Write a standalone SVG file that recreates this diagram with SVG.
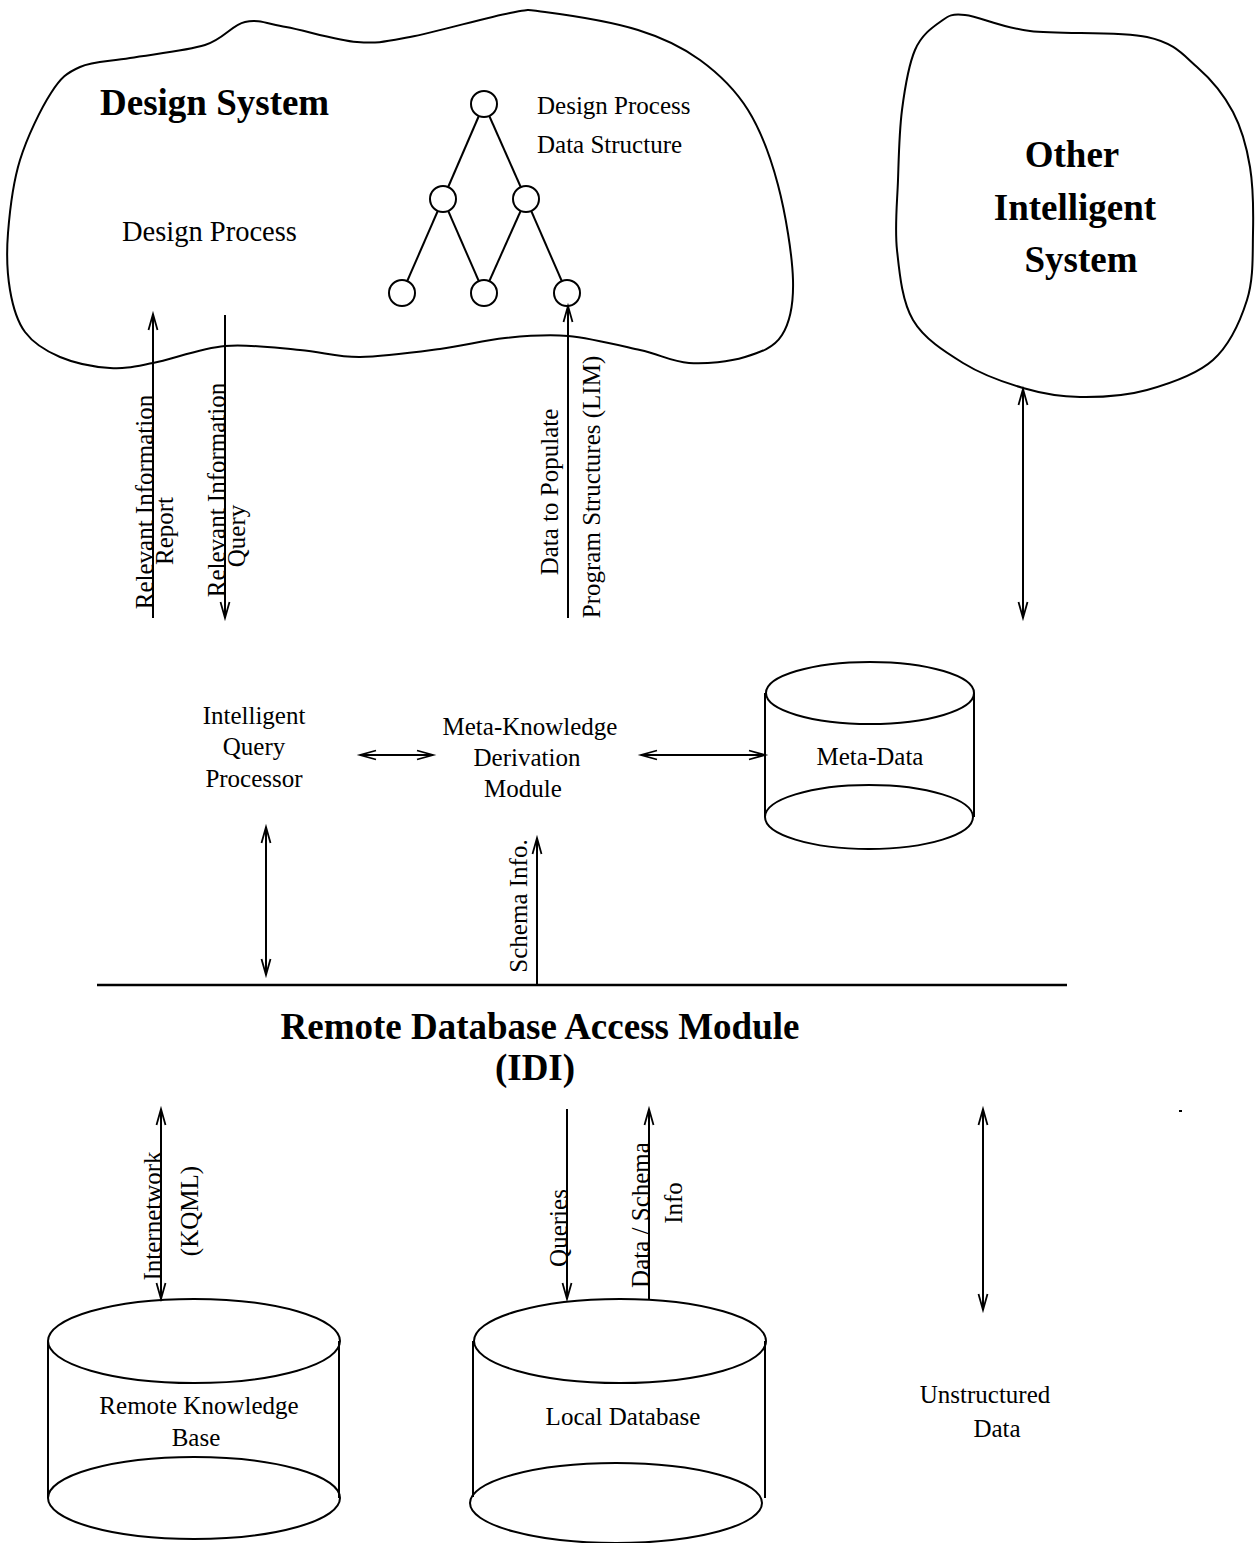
<svg xmlns="http://www.w3.org/2000/svg" width="1257" height="1543" viewBox="0 0 1257 1543">
<defs>
<style>
text{font-family:"Liberation Serif","Times New Roman",serif;fill:#000}
.b{font-weight:bold;font-size:37px}
.n{font-size:25px}
.m{text-anchor:middle}
.ln{stroke:#000;stroke-width:2;fill:none}
.sh{stroke:#000;stroke-width:2;fill:#fff}
</style>
<marker id="ah" viewBox="0 0 16 10" refX="16" refY="5" markerWidth="16" markerHeight="10" markerUnits="userSpaceOnUse" orient="auto-start-reverse" overflow="visible">
<path d="M0,0.5 L16,5 L0,9.5" fill="none" stroke="#000" stroke-width="1.8"/>
</marker>
</defs>
<rect width="1257" height="1543" fill="#fff"/>

<g id="design-system">
<path class="ln" d="M8,233 C9.7,211.3 12.8,183.3 20,160 S41,108.5 51,93 S66.8,72.8 80,67 S109.2,61.7 130,58 S185.8,51 205,45 S231.5,25 245,22 S267.3,23.7 286,27 S336.3,40.3 357,42 S384.5,41.8 410,37 S487.5,17.2 510,13 S523.7,9.2 545,12 S612.2,22 638,30 S681.7,46.7 700,60 S735,89.2 748,110 S770.5,156.7 778,185 S792.3,255 793,280 S790,322.2 782,335 S760.5,352.3 745,357 S706.5,364.2 689,363 S660.2,354.5 640,350 S590.5,338 568,336 S526.3,335.8 505,338 S464.2,345.8 440,349 S383.3,356.8 360,357 S322.5,351.8 300,350 S249.5,343.8 225,346 S172.2,359.3 153,363 S125.5,369 110,368 S74.2,363 60,357 S33.3,343.2 25,332 S12.8,306.5 10,290 S6.3,254.7 8,233 Z"/>
<text class="b" x="100" y="115">Design System</text>
<text x="122" y="241" style="font-size:28.5px">Design Process</text>
<text class="n" x="537" y="114">Design Process</text>
<text class="n" x="537" y="153">Data Structure</text>
<g id="tree">
<line class="ln" x1="484" y1="104" x2="443" y2="199"/>
<line class="ln" x1="484" y1="104" x2="526" y2="199"/>
<line class="ln" x1="443" y1="199" x2="402" y2="293"/>
<line class="ln" x1="443" y1="199" x2="484" y2="293"/>
<line class="ln" x1="526" y1="199" x2="484" y2="293"/>
<line class="ln" x1="526" y1="199" x2="567" y2="293"/>
<circle class="sh" cx="484" cy="104" r="13"/>
<circle class="sh" cx="443" cy="199" r="13"/>
<circle class="sh" cx="526" cy="199" r="13"/>
<circle class="sh" cx="402" cy="293" r="13"/>
<circle class="sh" cx="484" cy="293" r="13"/>
<circle class="sh" cx="567" cy="293" r="13"/>
</g>
</g>

<g id="other-intelligent-system">
<path class="ln" d="M965,15 C980,16.5 999.7,27.3 1030,31 S1119.2,31 1147,37 S1182.7,54.5 1197,67 S1224.2,95.3 1233,112 S1246.7,146.8 1250,167 S1253.5,210.8 1253,233 S1253.7,278.8 1247,300 S1229.7,345 1213,360 S1169.2,383.8 1147,390 S1100.7,397.3 1080,397 S1042.5,393.7 1023,388 S981.3,374.3 963,363 S924,338.8 913,320 S899.5,273.3 897,250 S897.2,203.3 898,180 S899.2,131.7 902,110 S908.7,64.7 915,50 S931.7,27.8 940,22 S950,13.5 965,15 Z"/>
<text class="b m" x="1072" y="167">Other</text>
<text class="b m" x="1075" y="220">Intelligent</text>
<text class="b m" x="1081" y="272">System</text>
</g>

<g id="intelligent-query-processor">
<text class="n m" x="254" y="724">Intelligent</text>
<text class="n m" x="254" y="755">Query</text>
<text class="n m" x="254" y="787">Processor</text>
</g>

<g id="meta-knowledge-derivation-module">
<text class="n m" x="530" y="735">Meta-Knowledge</text>
<text class="n m" x="527" y="766">Derivation</text>
<text class="n m" x="523" y="797">Module</text>
</g>

<g id="meta-data">
<line class="ln" x1="765" y1="693" x2="765" y2="817"/>
<line class="ln" x1="974" y1="693" x2="974" y2="817"/>
<ellipse class="ln" cx="870" cy="693" rx="104" ry="31"/>
<ellipse class="ln" cx="869" cy="817" rx="104" ry="32"/>
<text class="n m" x="870" y="765">Meta-Data</text>
</g>

<g id="remote-database-access-module">
<line x1="97" y1="985" x2="1067" y2="985" stroke="#000" stroke-width="2.5"/>
<text class="b m" x="540" y="1039">Remote Database Access Module</text>
<text class="b m" x="535" y="1080">(IDI)</text>
</g>

<g id="remote-knowledge-base">
<line class="ln" x1="48" y1="1341" x2="48" y2="1498"/>
<line class="ln" x1="339" y1="1341" x2="339" y2="1498"/>
<ellipse class="ln" cx="194" cy="1341" rx="146" ry="42"/>
<ellipse class="ln" cx="194" cy="1498" rx="146" ry="41"/>
<text class="n m" x="199" y="1414">Remote Knowledge</text>
<text class="n m" x="196" y="1446">Base</text>
</g>

<g id="local-database">
<line class="ln" x1="473" y1="1341" x2="473" y2="1497"/>
<line class="ln" x1="765" y1="1341" x2="765" y2="1498"/>
<ellipse class="ln" cx="620" cy="1341" rx="146" ry="42"/>
<ellipse class="ln" cx="616" cy="1503" rx="146" ry="40"/>
<text class="n m" x="623" y="1425">Local Database</text>
</g>

<g id="unstructured-data">
<text class="n m" x="985" y="1403">Unstructured</text>
<text class="n m" x="997" y="1437">Data</text>
</g>

<g id="connectors">
<line class="ln" x1="153" y1="618" x2="153" y2="314" marker-end="url(#ah)"/>
<line class="ln" x1="225" y1="315" x2="225" y2="618" marker-end="url(#ah)"/>
<line class="ln" x1="568" y1="618" x2="568" y2="306" marker-end="url(#ah)"/>
<line class="ln" x1="1023" y1="389" x2="1023" y2="618" marker-start="url(#ah)" marker-end="url(#ah)"/>
<line class="ln" x1="360" y1="755" x2="433" y2="755" marker-start="url(#ah)" marker-end="url(#ah)"/>
<line class="ln" x1="641" y1="755" x2="765" y2="755" marker-start="url(#ah)" marker-end="url(#ah)"/>
<line class="ln" x1="266" y1="827" x2="266" y2="975" marker-start="url(#ah)" marker-end="url(#ah)"/>
<line class="ln" x1="537" y1="985" x2="537" y2="838" marker-end="url(#ah)"/>
<line class="ln" x1="161" y1="1109" x2="161" y2="1299" marker-start="url(#ah)" marker-end="url(#ah)"/>
<line class="ln" x1="567" y1="1109" x2="567" y2="1299" marker-end="url(#ah)"/>
<line class="ln" x1="649" y1="1299" x2="649" y2="1109" marker-end="url(#ah)"/>
<line class="ln" x1="983" y1="1109" x2="983" y2="1310" marker-start="url(#ah)" marker-end="url(#ah)"/>
<text class="n m" transform="translate(153,502) rotate(-90)">Relevant Information</text>
<text class="n m" transform="translate(173,531) rotate(-90)">Report</text>
<text class="n m" transform="translate(225,490) rotate(-90)">Relevant Information</text>
<text class="n m" transform="translate(245,536) rotate(-90)">Query</text>
<text class="n m" transform="translate(558,492) rotate(-90)">Data to Populate</text>
<text class="n m" transform="translate(600,487) rotate(-90)">Program Structures (LIM)</text>
<text class="n m" transform="translate(527,906) rotate(-90)">Schema Info.</text>
<text class="n m" transform="translate(161,1216) rotate(-90)">Internetwork</text>
<text class="n m" transform="translate(198,1211) rotate(-90)">(KQML)</text>
<text class="n m" transform="translate(567,1228) rotate(-90)">Queries</text>
<text class="n m" transform="translate(649,1215) rotate(-90)">Data / Schema</text>
<text class="n m" transform="translate(682,1203) rotate(-90)">Info</text>
</g>

<rect x="1179" y="1110" width="3" height="2" fill="#000"/>
</svg>
